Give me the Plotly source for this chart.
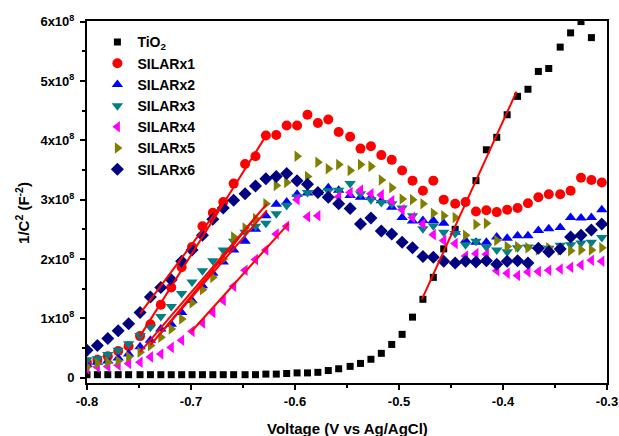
import plotly.graph_objects as go

# Voltage grid (V vs Ag/AgCl)
V = [-0.800, -0.790, -0.780, -0.770, -0.760, -0.749, -0.739, -0.729, -0.719, -0.709,
     -0.699, -0.689, -0.679, -0.669, -0.659, -0.648, -0.638, -0.628, -0.618, -0.608,
     -0.598, -0.588, -0.578, -0.568, -0.558, -0.547, -0.537, -0.527, -0.517, -0.507,
     -0.497, -0.487, -0.477, -0.467, -0.457, -0.446, -0.436, -0.426, -0.416, -0.406,
     -0.396, -0.386, -0.376, -0.366, -0.356, -0.345, -0.335, -0.325, -0.315, -0.305]

# 1/C^2 in units of 1e8 F^-2
TIO2 = [0.05, 0.05, 0.05, 0.05, 0.05, 0.05, 0.05, 0.05, 0.05, 0.05,
        0.05, 0.05, 0.05, 0.05, 0.05, 0.05, 0.05, 0.06, 0.06, 0.07,
        0.08, 0.08, 0.09, 0.12, 0.15, 0.19, 0.24, 0.31, 0.41, 0.56,
        0.73, 1.02, 1.32, 1.69, 2.17, 2.50, 2.96, 3.32, 3.84, 4.05,
        4.43, 4.74, 4.86, 5.16, 5.21, 5.57, 5.81, 6.00, 5.73, None]
SILAR1 = [0.25, 0.30, 0.36, 0.45, 0.53, 0.70, 0.90, 1.23, 1.52, 1.86,
          2.20, 2.55, 2.78, 2.96, 3.27, 3.60, 3.73, 4.08, 4.09, 4.25,
          4.25, 4.43, 4.29, 4.35, 4.14, 4.06, 3.86, 3.90, 3.75, 3.67,
          3.49, 3.32, 3.15, 3.32, 3.00, 2.93, 2.96, 2.80, 2.82, 2.79,
          2.83, 2.86, 2.94, 3.04, 3.09, 3.09, 3.15, 3.37, 3.33, 3.29]
SILAR2 = [0.22, 0.26, 0.28, 0.33, 0.40, 0.52, 0.63, 0.82, 0.90, 1.10,
          1.30, 1.55, 1.76, 1.95, 2.15, 2.30, 2.50, 2.73, 2.92, 2.96,
          3.09, 3.11, 3.12, 3.20, 3.16, 3.07, 3.04, 3.04, 2.98, 2.87,
          2.70, 2.64, 2.65, 2.65, 2.60, 2.45, 2.31, 2.28, 2.28, 2.37,
          2.35, 2.39, 2.39, 2.48, 2.51, 2.53, 2.70, 2.69, 2.70, 2.83]
SILAR3 = [0.30, 0.32, 0.39, 0.46, 0.57, 0.71, 0.85, 1.03, 1.20, 1.42,
          1.61, 1.80, 1.97, 2.15, 2.30, 2.45, 2.55, 2.60, 2.76, 2.90,
          3.05, 3.12, 3.12, 3.15, 3.16, 3.27, 3.10, 3.00, 2.95, 2.93,
          2.86, 2.73, 2.51, 2.56, 2.45, 2.43, 2.24, 2.30, 2.20, 2.15,
          2.12, 2.19, 2.20, 2.19, 2.18, 2.23, 2.24, 2.27, 2.28, 2.36]
SILAR4 = [0.15, 0.18, 0.19, 0.21, 0.24, 0.26, 0.35, 0.40, 0.51, 0.63,
          0.78, 0.92, 1.10, 1.30, 1.54, 1.81, 1.99, 2.15, 2.42, 2.55,
          3.00, 2.71, 2.73, 3.05, 3.05, 3.12, 3.16, 3.10, 3.08, 2.98,
          2.83, 2.70, 2.59, 2.41, 2.31, 2.26, 2.05, 2.09, 2.08, 1.80,
          1.76, 1.72, 1.78, 1.79, 1.81, 1.83, 1.86, 1.90, 1.98, 1.96]
SILAR5 = [0.18, 0.24, 0.26, 0.28, 0.35, 0.43, 0.54, 0.68, 0.82, 0.99,
          1.26, 1.48, 1.69, 2.00, 2.37, 2.52, 2.68, 2.93, 3.24, 3.29,
          3.73, 3.39, 3.63, 3.52, 3.59, 3.49, 3.59, 3.56, 3.33, 3.20,
          3.01, 3.00, 2.93, 2.77, 2.73, 2.70, 2.40, 2.58, 2.60, 2.31,
          2.21, 2.21, 2.19, 2.15, 2.19, 2.15, 2.14, 2.15, 2.15, 2.19]
SILAR6 = [0.46, 0.54, 0.66, 0.79, 0.91, 1.10, 1.36, 1.52, 1.65, 1.96,
          2.15, 2.40, 2.67, 2.86, 2.99, 3.10, 3.23, 3.35, 3.39, 3.44,
          3.32, 3.26, 3.12, 3.04, 2.93, 2.85, 2.59, 2.69, 2.47, 2.42,
          2.28, 2.19, 2.04, 2.03, 1.96, 1.93, 1.96, 1.95, 1.97, 1.91,
          1.96, 1.97, 1.93, 2.18, 2.12, 2.17, 2.37, 2.40, 2.49, 2.59]

# Linear (Mott-Schottky) fit segments: [V_start, V_end], [y_start, y_end]
FIT_TIO2_V, FIT_TIO2_Y = [-0.478, -0.387], [1.32, 4.82]
FIT_1_V, FIT_1_Y = [-0.749, -0.627], [0.70, 4.10]
FIT_2_V, FIT_2_Y = [-0.739, -0.627], [0.55, 2.82]
FIT_3_V, FIT_3_Y = [-0.729, -0.637], [0.75, 2.72]
FIT_4_V, FIT_4_Y = [-0.700, -0.606], [0.77, 2.60]
FIT_5_V, FIT_5_Y = [-0.749, -0.627], [0.43, 2.93]
FIT_6_V, FIT_6_Y = [-0.749, -0.667], [1.08, 3.00]

X_TICKS = [-0.8, -0.7, -0.6, -0.5, -0.4, -0.3]
X_LABELS = ["-0.8", "-0.7", "-0.6", "-0.5", "-0.4", "-0.3"]
X_MINOR = [-0.75, -0.65, -0.55, -0.45, -0.35]
Y_TICKS = [0, 1, 2, 3, 4, 5, 6]
Y_LABELS = ["0"] + ["%dx10<sup>8</sup>" % i for i in range(1, 7)]
Y_MINOR = [0.5, 1.5, 2.5, 3.5, 4.5, 5.5]

X_TITLE = "Voltage (V vs Ag/AgCl)"
Y_TITLE = "1/C<sup>2</sup> (F<sup>-2</sup>)"

FONT = "Liberation Sans, Arial, sans-serif"

series = [
    ("TiO<sub>2</sub>", TIO2, "#000000", "square", 7),
    ("SILARx1", SILAR1, "#FF0000", "circle", 10),
    ("SILARx2", SILAR2, "#0000FF", "triangle-up", 10),
    ("SILARx3", SILAR3, "#008080", "triangle-down", 10),
    ("SILARx4", SILAR4, "#FF00FF", "triangle-left", 10),
    ("SILARx5", SILAR5, "#808000", "triangle-right", 10),
    ("SILARx6", SILAR6, "#000080", "diamond", 10),
]
fits = [(FIT_TIO2_V, FIT_TIO2_Y), (FIT_1_V, FIT_1_Y), (FIT_2_V, FIT_2_Y),
        (FIT_3_V, FIT_3_Y), (FIT_4_V, FIT_4_Y), (FIT_5_V, FIT_5_Y),
        (FIT_6_V, FIT_6_Y)]

fig = go.Figure()
for name, ys, col, sym, sz in series:
    fig.add_trace(go.Scatter(x=V, y=ys, mode="markers", name=name,
                             marker=dict(symbol=sym, size=sz, color=col, line=dict(width=0))))
for fv, fy in fits:
    fig.add_trace(go.Scatter(x=fv, y=fy, mode="lines", showlegend=False,
                             line=dict(color="#FF0000", width=2)))

axis_common = dict(showgrid=False, zeroline=False, showline=True, linecolor="black",
                   linewidth=2, mirror=True, ticks="outside", ticklen=5, tickwidth=1.5,
                   tickcolor="black", tickmode="array", automargin=False,
                   tickfont=dict(family=FONT, size=13, color="black", weight="bold"))

fig.update_xaxes(range=[-0.8, -0.3], tickvals=X_TICKS, ticktext=X_LABELS,
                 minor=dict(tickvals=X_MINOR, ticks="outside", ticklen=3, tickcolor="black", tickwidth=1.5),
                 ticklabelstandoff=0, **axis_common)
fig.update_yaxes(range=[-0.09, 6.01], tickvals=Y_TICKS, ticktext=Y_LABELS,
                 minor=dict(tickvals=Y_MINOR, ticks="outside", ticklen=3, tickcolor="black", tickwidth=1.5),
                 ticklabelstandoff=3, **axis_common)

title_font = dict(family=FONT, size=15, color="black", weight="bold")
fig.add_annotation(text=X_TITLE, xref="paper", yref="paper", x=0.5, y=-0.125,
                   xanchor="center", yanchor="middle", showarrow=False, font=title_font)
fig.add_annotation(text=Y_TITLE, xref="paper", yref="paper", x=-0.123, y=0.47,
                   xanchor="center", yanchor="middle", showarrow=False, textangle=-90,
                   font=title_font)

fig.update_layout(
    width=619, height=436,
    margin=dict(l=87, r=12, t=21, b=53),
    paper_bgcolor="white", plot_bgcolor="white",
    font=dict(family=FONT, color="black"),
    legend=dict(x=0.02, y=0.985, xanchor="left", yanchor="top",
                bgcolor="rgba(0,0,0,0)", borderwidth=0,
                font=dict(family=FONT, size=14, color="black", weight="bold"),
                itemwidth=30, tracegroupgap=0),
)

fig.write_html("out.html", config={"displayModeBar": False},
               post_script="document.body.style.margin='0';document.body.style.overflow='hidden';")
